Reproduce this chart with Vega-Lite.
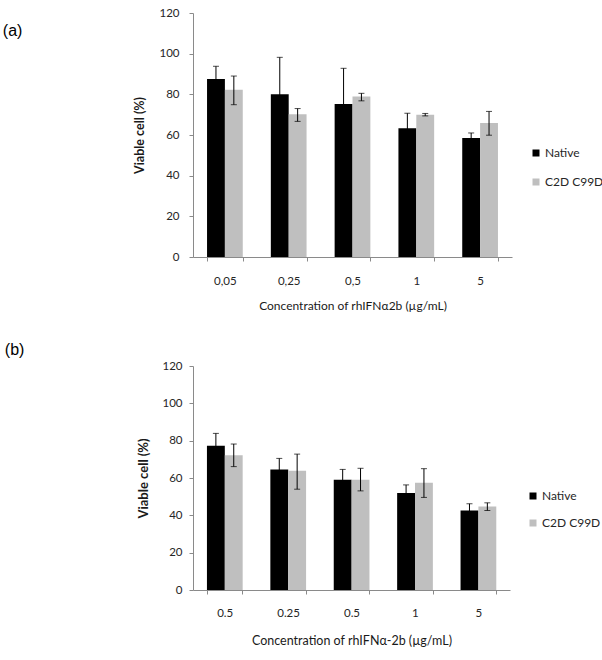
{
  "$schema": "https://vega.github.io/schema/vega-lite/v6.json",
  "background": "white",
  "padding": {"left": 2, "top": 7, "right": 2, "bottom": 2},
  "columns": 1,
  "align": "none",
  "spacing": 30,
  "resolve": {"legend": {"color": "independent"}, "scale": {"x": "independent", "y": "independent"}},
  "datasets": {
    "a": [
      {"conc": "0,05", "variant": "Native", "mean": 87.5, "lo": 81.2, "hi": 93.8},
      {"conc": "0,05", "variant": "C2D C99D", "mean": 82.3, "lo": 74.9, "hi": 89.0},
      {"conc": "0,25", "variant": "Native", "mean": 80.0, "lo": 61.8, "hi": 98.2},
      {"conc": "0,25", "variant": "C2D C99D", "mean": 70.2, "lo": 66.7, "hi": 73.0},
      {"conc": "0,5", "variant": "Native", "mean": 75.2, "lo": 57.6, "hi": 92.8},
      {"conc": "0,5", "variant": "C2D C99D", "mean": 78.9, "lo": 76.8, "hi": 80.5},
      {"conc": "1", "variant": "Native", "mean": 63.3, "lo": 55.9, "hi": 70.7},
      {"conc": "1", "variant": "C2D C99D", "mean": 70.0, "lo": 69.4, "hi": 70.6},
      {"conc": "5", "variant": "Native", "mean": 58.5, "lo": 56.0, "hi": 61.0},
      {"conc": "5", "variant": "C2D C99D", "mean": 65.9, "lo": 59.9, "hi": 71.6}
    ],
    "b": [
      {"conc": "0.5", "variant": "Native", "mean": 77.3, "lo": 70.7, "hi": 83.9},
      {"conc": "0.5", "variant": "C2D C99D", "mean": 72.2, "lo": 66.1, "hi": 78.2},
      {"conc": "0.25", "variant": "Native", "mean": 64.6, "lo": 58.7, "hi": 70.5},
      {"conc": "0.25", "variant": "C2D C99D", "mean": 63.9, "lo": 54.0, "hi": 72.8},
      {"conc": "0.5 ", "variant": "Native", "mean": 59.1, "lo": 53.6, "hi": 64.6},
      {"conc": "0.5 ", "variant": "C2D C99D", "mean": 59.1, "lo": 53.1, "hi": 65.2},
      {"conc": "1", "variant": "Native", "mean": 52.0, "lo": 47.7, "hi": 56.3},
      {"conc": "1", "variant": "C2D C99D", "mean": 57.5, "lo": 49.6, "hi": 65.0},
      {"conc": "5", "variant": "Native", "mean": 42.6, "lo": 39.0, "hi": 46.2},
      {"conc": "5", "variant": "C2D C99D", "mean": 44.7, "lo": 42.6, "hi": 46.7}
    ]
  },
  "config": {
    "view": {"stroke": null},
    "font": "Lato",
    "axis": {
      "grid": false,
      "domainColor": "#8a8a8a",
      "tickColor": "#8a8a8a",
      "tickSize": 4,
      "labelFont": "Lato",
      "labelFontSize": 11.5,
      "labelColor": "#262626",
      "labelOverlap": false,
      "titleFont": "Lato"
    },
    "legend": {
      "title": null,
      "orient": "none",
      "symbolType": "square",
      "symbolSize": 49,
      "symbolStrokeWidth": 0,
      "labelFont": "Lato",
      "labelFontSize": 12,
      "labelColor": "#262626",
      "labelOffset": 3
    }
  },
  "concat": [
    {
      "width": 319,
      "height": 244,
      "title": {"text": "(a)", "orient": "left", "anchor": "end", "angle": 0, "align": "right", "baseline": "top", "offset": 92, "dy": 16, "fontSize": 16, "font": "Liberation Sans", "fontWeight": "normal", "color": "#000000"},
      "data": {"name": "a"},
      "encoding": {
        "x": {
          "field": "conc", "type": "nominal",
          "sort": ["0,05", "0,25", "0,5", "1", "5"],
          "scale": {"paddingInner": 0.44, "paddingOuter": 0.22},
          "axis": {"title": "Concentration of rhIFNα2b  (µg/mL)", "labelAngle": 0, "tickBand": "extent", "labelPadding": 14, "titlePadding": 14, "titleFontSize": 12, "titleFontWeight": "normal", "titleColor": "#1a1a1a"}
        },
        "xOffset": {"field": "variant", "type": "nominal", "sort": ["Native", "C2D C99D"]}
      },
      "layer": [
        {
          "mark": {"type": "bar"},
          "encoding": {
            "y": {"field": "mean", "type": "quantitative", "scale": {"domain": [0, 120]},
              "axis": {"title": "Viable cell  (%)", "values": [0, 20, 40, 60, 80, 100, 120], "tickCount": 12, "labelOverlap": false, "labelPadding": 10, "titlePadding": 12, "titleFontSize": 12.5, "titleFontWeight": "bold", "titleColor": "#1a1a1a"}},
            "color": {"field": "variant", "type": "nominal", "sort": ["Native", "C2D C99D"],
              "scale": {"domain": ["Native", "C2D C99D"], "range": ["#000000", "#bfbfbf"]},
              "legend": {"legendX": 337, "legendY": 134, "rowPadding": 17}}
          }
        },
        {
          "mark": {"type": "rule", "color": "#000000", "strokeWidth": 1},
          "encoding": {"y": {"field": "lo", "type": "quantitative"}, "y2": {"field": "hi"}}
        },
        {
          "mark": {"type": "tick", "color": "#000000", "size": 6, "thickness": 1},
          "encoding": {"y": {"field": "lo", "type": "quantitative"}}
        },
        {
          "mark": {"type": "tick", "color": "#000000", "size": 6, "thickness": 1},
          "encoding": {"y": {"field": "hi", "type": "quantitative"}}
        }
      ]
    },
    {
      "width": 317,
      "height": 224,
      "title": {"text": "(b)", "orient": "left", "anchor": "end", "angle": 0, "align": "right", "baseline": "top", "offset": 94, "dy": -18, "fontSize": 16, "font": "Liberation Sans", "fontWeight": "normal", "color": "#000000"},
      "data": {"name": "b"},
      "encoding": {
        "x": {
          "field": "conc", "type": "nominal",
          "sort": ["0.5", "0.25", "0.5 ", "1", "5"],
          "scale": {"paddingInner": 0.44, "paddingOuter": 0.22},
          "axis": {"title": "Concentration of rhIFNα-2b (µg/mL)", "labelAngle": 0, "tickBand": "extent", "labelPadding": 13, "titlePadding": 16, "titleFontSize": 12.5, "titleFontWeight": "normal", "titleColor": "#1a1a1a"}
        },
        "xOffset": {"field": "variant", "type": "nominal", "sort": ["Native", "C2D C99D"]}
      },
      "layer": [
        {
          "mark": {"type": "bar"},
          "encoding": {
            "y": {"field": "mean", "type": "quantitative", "scale": {"domain": [0, 120]},
              "axis": {"title": "Viable cell (%)", "values": [0, 20, 40, 60, 80, 100, 120], "tickCount": 12, "labelOverlap": false, "labelPadding": 7, "titlePadding": 11, "titleFontSize": 13, "titleFontWeight": "bold", "titleColor": "#1a1a1a"}},
            "color": {"field": "variant", "type": "nominal", "sort": ["Native", "C2D C99D"],
              "scale": {"domain": ["Native", "C2D C99D"], "range": ["#000000", "#bfbfbf"]},
              "legend": {"legendX": 334, "legendY": 124, "rowPadding": 15}}
          }
        },
        {
          "mark": {"type": "rule", "color": "#000000", "strokeWidth": 1},
          "encoding": {"y": {"field": "lo", "type": "quantitative"}, "y2": {"field": "hi"}}
        },
        {
          "mark": {"type": "tick", "color": "#000000", "size": 6, "thickness": 1},
          "encoding": {"y": {"field": "lo", "type": "quantitative"}}
        },
        {
          "mark": {"type": "tick", "color": "#000000", "size": 6, "thickness": 1},
          "encoding": {"y": {"field": "hi", "type": "quantitative"}}
        }
      ]
    }
  ]
}
